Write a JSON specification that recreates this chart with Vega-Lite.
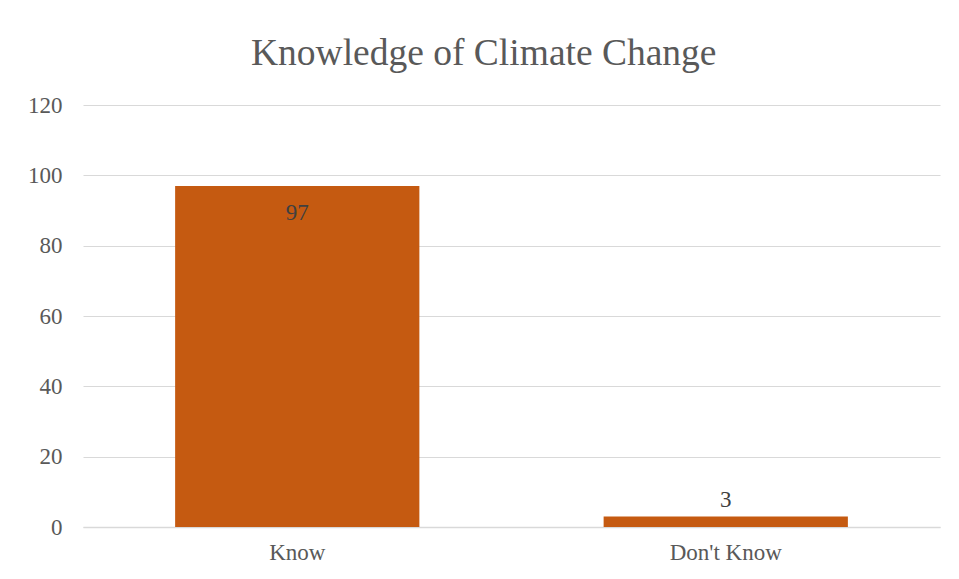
{
  "$schema": "https://vega.github.io/schema/vega-lite/v6.json",
  "autosize": {"type": "none"},
  "width": 857,
  "height": 422,
  "padding": {"left": 83, "top": 105, "right": 19, "bottom": 52},
  "background": "white",
  "title": {
    "text": "Knowledge of Climate Change",
    "font": "Liberation Serif",
    "fontSize": 37.5,
    "fontWeight": "normal",
    "color": "#595959",
    "anchor": "middle",
    "frame": "bounds",
    "offset": 22
  },
  "data": {
    "values": [
      {"category": "Know", "value": 97},
      {"category": "Don't Know", "value": 3}
    ]
  },
  "encoding": {
    "x": {
      "field": "category",
      "type": "nominal",
      "sort": null,
      "scale": {"paddingInner": 0.43, "paddingOuter": 0.215},
      "axis": {
        "title": null,
        "labelAngle": 0,
        "labelFont": "Liberation Serif",
        "labelFontSize": 23,
        "labelColor": "#595959",
        "labelPadding": 14,
        "ticks": false,
        "domainColor": "#d9d9d9",
        "domainWidth": 1.5,
        "grid": false
      }
    },
    "y": {
      "field": "value",
      "type": "quantitative",
      "scale": {"domain": [0, 120], "nice": false},
      "axis": {
        "title": null,
        "values": [0, 20, 40, 60, 80, 100, 120],
        "labelFont": "Liberation Serif",
        "labelFontSize": 23,
        "labelColor": "#595959",
        "labelPadding": 21,
        "ticks": false,
        "domain": false,
        "gridColor": "#d9d9d9",
        "gridWidth": 1.2
      }
    }
  },
  "layer": [
    {"mark": {"type": "bar", "color": "#c55a11"}},
    {
      "transform": [{"filter": "datum.value >= 50"}],
      "mark": {"type": "text", "font": "Liberation Serif", "fontSize": 23, "color": "#404040", "baseline": "top", "dy": 16},
      "encoding": {"text": {"field": "value", "type": "quantitative"}}
    },
    {
      "transform": [{"filter": "datum.value < 50"}],
      "mark": {"type": "text", "font": "Liberation Serif", "fontSize": 23, "color": "#404040", "baseline": "bottom", "dy": -4},
      "encoding": {"text": {"field": "value", "type": "quantitative"}}
    }
  ],
  "config": {"view": {"stroke": null}}
}
